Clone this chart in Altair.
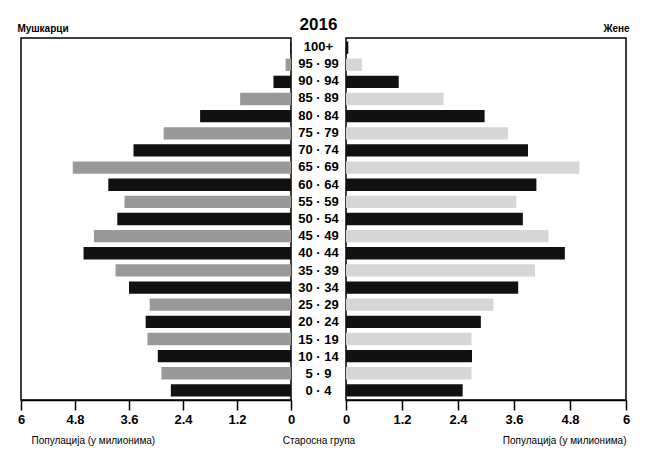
import altair as alt
import pandas as pd

ages = ["0 · 4", "5 · 9", "10 · 14", "15 · 19", "20 · 24", "25 · 29", "30 · 34",
        "35 · 39", "40 · 44", "45 · 49", "50 · 54", "55 · 59", "60 · 64", "65 · 69",
        "70 · 74", "75 · 79", "80 · 84", "85 · 89", "90 · 94", "95 · 99", "100+"]
male = [2.67, 2.88, 2.96, 3.19, 3.23, 3.14, 3.60, 3.90, 4.61, 4.38, 3.86,
        3.70, 4.06, 4.85, 3.50, 2.83, 2.02, 1.13, 0.39, 0.12, 0.02]
female = [2.50, 2.69, 2.70, 2.69, 2.89, 3.16, 3.69, 4.05, 4.69, 4.34, 3.79,
          3.65, 4.08, 5.00, 3.90, 3.47, 2.97, 2.09, 1.13, 0.34, 0.05]
ticks = [0, 1.2, 2.4, 3.6, 4.8, 6]

df = pd.DataFrame({"age": ages, "male": male, "female": female})
df["parity"] = [i % 2 for i in range(len(ages))]
order = list(reversed(ages))

FONT = "Liberation Sans"
H = 362

yenc = alt.Y("age:N", sort=order, axis=None,
             scale=alt.Scale(paddingInner=0.28, paddingOuter=0.2))

axis_common = dict(values=ticks,
                   labelExpr="replace(format(datum.value, '.1f'), '.0', '')",
                   grid=False, labelFont=FONT,
                   labelFontWeight="bold", labelFontSize=13, labelColor="black",
                   labelFlush=False, labelOverlap=False, labelPadding=3,
                   tickColor="black", tickSize=10, tickWidth=1.5,
                   domainColor="black", domainWidth=1.5,
                   titleFont=FONT, titleFontSize=10, titleFontWeight="normal",
                   titleColor="black", titlePadding=9)

left = alt.Chart(df).mark_bar().encode(
    x=alt.X("male:Q", scale=alt.Scale(domain=[0, 6], reverse=True, nice=False),
            axis=alt.Axis(title="Популација (у милионима)", titleX=10, titleAlign="left",
                          **axis_common)),
    y=yenc,
    color=alt.Color("parity:O", scale=alt.Scale(domain=[0, 1], range=["#111111", "#999999"]),
                    legend=None),
).properties(width=270, height=H,
             title=alt.TitleParams("Мушкарци", anchor="start", fontSize=10,
                                   fontWeight="bold", font=FONT, color="black"))

mid = alt.Chart(df).mark_text(font=FONT, fontWeight="bold",
                              fontSize=13, color="black").encode(
    x=alt.X("pos:Q", scale=alt.Scale(domain=[0, 1]),
            axis=alt.Axis(title="Старосна група", labels=False, ticks=False,
                          domain=False, grid=False, titleFont=FONT, titleFontSize=10,
                          titleFontWeight="normal", titleColor="black", titlePadding=35)),
    y=yenc,
    text="age:N",
).transform_calculate(pos="0.5").properties(
    width=55, height=H, view=alt.ViewConfig(strokeWidth=0),
    title=alt.TitleParams("2016", fontSize=17, fontWeight="bold", font=FONT, color="black"))

right = alt.Chart(df).mark_bar().encode(
    x=alt.X("female:Q", scale=alt.Scale(domain=[0, 6], nice=False),
            axis=alt.Axis(title="Популација (у милионима)", titleAnchor="end",
                          **axis_common)),
    y=yenc,
    color=alt.Color("parity:O", scale=alt.Scale(domain=[0, 1], range=["#111111", "#d6d6d6"]),
                    legend=None),
).properties(width=280, height=H,
             title=alt.TitleParams("Жене", anchor="end", fontSize=10,
                                   fontWeight="bold", font=FONT, color="black"))

chart = alt.hconcat(left, mid, right, spacing=0, bounds="flush").resolve_scale(
    color="independent", x="independent"
).properties(
    padding={"left": 8, "top": 8, "right": 5, "bottom": 5},
    background="white",
).configure_view(stroke="black", strokeWidth=1.5)

chart.save("out.html", embed_options={"renderer": "svg", "actions": False})
